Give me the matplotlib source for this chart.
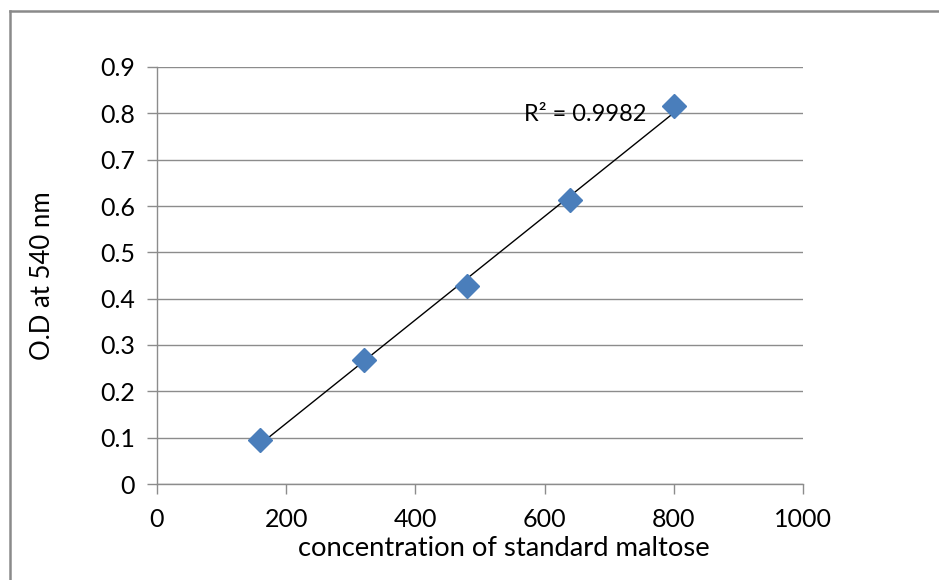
import matplotlib

matplotlib.use("Agg")
import matplotlib.pyplot as plt
from matplotlib.lines import Line2D
import numpy as np

# standard maltose calibration
concentration = [160, 320, 480, 640, 800]
absorbance = [0.094, 0.268, 0.428, 0.613, 0.815]
r_squared = 0.9982

x_ticks = [0, 200, 400, 600, 800, 1000]
y_ticks = [0, 0.1, 0.2, 0.3, 0.4, 0.5, 0.6, 0.7, 0.8, 0.9]

plt.rcParams["font.family"] = ["Lato", "DejaVu Sans"]

W, H = 939, 580
fig = plt.figure(figsize=(W / 100, H / 100), dpi=100)
ax = fig.add_axes([157 / W, 1 - 484 / H, 646 / W, 417 / H])

grid_grey = "#8c8c8c"

# linear trend line through the points
slope, intercept = np.polyfit(concentration, absorbance, 1)
xs = np.array([concentration[0], concentration[-1]])
ax.plot(xs, slope * xs + intercept, color="black", lw=1.0, zorder=3)

ax.plot(concentration, absorbance, linestyle="none", marker="D", markersize=12,
        color="#4a7ebb", markeredgecolor="#4a7ebb", zorder=4)

ax.text(568, 0.797, f"R\u00b2 = {r_squared}", fontsize=17, ha="left", va="center", zorder=2)

ax.set_xlim(0, 1000)
ax.set_ylim(0, 0.9)
ax.set_xticks(x_ticks)
ax.set_yticks(y_ticks)
ax.set_yticklabels(["0" if v == 0 else f"{v:.1f}" for v in y_ticks])
ax.yaxis.grid(True, color=grid_grey, lw=1.0)
ax.set_axisbelow(True)

for side in ["top", "right"]:
    ax.spines[side].set_visible(False)
for side in ["left", "bottom"]:
    ax.spines[side].set_color(grid_grey)
    ax.spines[side].set_linewidth(1.0)

ax.tick_params(axis="both", colors=grid_grey, labelcolor="black", labelsize=18,
               length=7, width=1.0, direction="out")
ax.tick_params(axis="y", pad=9)
ax.tick_params(axis="x", pad=10)

ax.set_xlabel("concentration of standard maltose", fontsize=19.7, va="center")
ax.xaxis.set_label_coords(0.537, -0.154)
ax.set_ylabel("O.D at 540 nm", fontsize=18.5, labelpad=32)

# chart area border
fig.add_artist(Line2D([10 / W, 10 / W], [1 - 11 / H, 0], color="#8a8a8a", lw=1.8,
                      transform=fig.transFigure))
fig.add_artist(Line2D([10 / W, 1], [1 - 11 / H, 1 - 11 / H], color="#8a8a8a", lw=1.8,
                      transform=fig.transFigure))

fig.savefig("out.png", dpi=100)
